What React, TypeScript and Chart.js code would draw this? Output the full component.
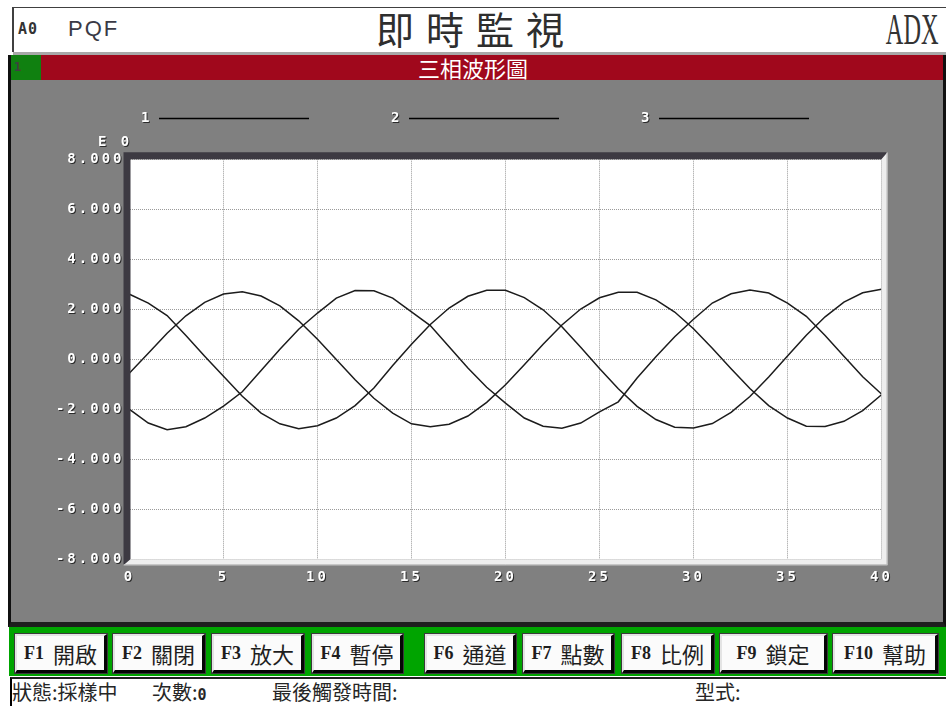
import React, { useEffect, useRef } from 'react';
import { Chart, registerables } from 'chart.js';

Chart.register(...registerables);

// ---- chart data ----
const xValues = [0, 1, 2, 3, 4, 5, 6, 7, 8, 9, 10, 11, 12, 13, 14, 15, 16, 17, 18, 19, 20, 21, 22, 23, 24, 25, 26, 27, 28, 29, 30, 31, 32, 33, 34, 35, 36, 37, 38, 39, 40];
const phase1 = [2.60, 2.25, 1.75, 0.95, 0.12, -0.68, -1.48, -2.15, -2.58, -2.78, -2.66, -2.35, -1.85, -1.15, -0.25, 0.60, 1.39, 2.05, 2.52, 2.76, 2.76, 2.47, 1.98, 1.30, 0.48, -0.37, -1.18, -1.88, -2.41, -2.72, -2.75, -2.57, -2.12, -1.49, -0.71, 0.13, 0.96, 1.70, 2.29, 2.66, 2.80];
const phase2 = [-0.55, 0.24, 1.04, 1.74, 2.28, 2.61, 2.70, 2.53, 2.14, 1.54, 0.80, -0.01, -0.82, -1.56, -2.15, -2.58, -2.70, -2.60, -2.27, -1.72, -1.02, -0.22, 0.60, 1.37, 2.01, 2.46, 2.68, 2.68, 2.38, 1.89, 1.22, 0.44, -0.38, -1.17, -1.85, -2.35, -2.68, -2.69, -2.48, -2.05, -1.42];
const phase3 = [-2.00, -2.55, -2.82, -2.70, -2.35, -1.87, -1.30, -0.45, 0.40, 1.20, 1.85, 2.45, 2.75, 2.74, 2.45, 1.90, 1.35, 0.50, -0.35, -1.12, -1.75, -2.35, -2.68, -2.76, -2.55, -2.10, -1.70, -0.75, 0.10, 0.90, 1.60, 2.25, 2.62, 2.77, 2.65, 2.25, 1.72, 0.95, 0.12, -0.70, -1.39];
const seriesNames = ['1', '2', '3'];
const seriesValues = [phase1, phase2, phase3];
const yMin = -8;
const yMax = 8;
const yStep = 2;
const xMin = 0;
const xMax = 40;
const xStep = 5;
const yExponentLabel = 'E 0';

// ---- UI text ----
const fKeys = ['F1', 'F2', 'F3', 'F4', 'F6', 'F7', 'F8', 'F9', 'F10'];
const fLabels = ['開啟', '關閉', '放大', '暫停', '通道', '點數', '比例', '鎖定', '幫助'];
const fLefts = [15, 113, 212, 312, 425, 523, 622, 720, 833];
const fWidths = [92, 92, 92, 91, 91, 91, 92, 107, 105];

const MONO = '"DejaVu Sans Mono", "Liberation Mono", monospace';
const CJK = '"Noto Sans CJK TC", "Noto Sans CJK SC", sans-serif';

const framePlugin = {
  id: 'frame',
  beforeDraw(chart: any) {
    const { ctx, chartArea: a } = chart;
    ctx.save();
    ctx.fillStyle = '#ffffff';
    ctx.fillRect(a.left, a.top, a.right - a.left, a.bottom - a.top);
    ctx.restore();
  },
  afterDatasetsDraw(chart: any) {
    const { ctx, chartArea: a } = chart;
    ctx.save();
    const d = 7;
    const l = 6;
    const L = a.left + 1;
    const T = a.top;
    const R = a.right;
    const B = a.bottom;
    // dark top/left bevel
    ctx.fillStyle = '#3d3a42';
    ctx.beginPath();
    ctx.moveTo(L - d, T - d);
    ctx.lineTo(R + l, T - d);
    ctx.lineTo(R, T);
    ctx.lineTo(L, T);
    ctx.lineTo(L, B);
    ctx.lineTo(L - d, B + l);
    ctx.closePath();
    ctx.fill();
    // light bottom/right bevel
    ctx.fillStyle = '#eeeeee';
    ctx.beginPath();
    ctx.moveTo(R + l, T - d);
    ctx.lineTo(R + l, B + l);
    ctx.lineTo(L - d, B + l);
    ctx.lineTo(L, B);
    ctx.lineTo(R, B);
    ctx.lineTo(R, T);
    ctx.closePath();
    ctx.fill();
    ctx.strokeStyle = '#b8b8b8';
    ctx.lineWidth = 1;
    ctx.beginPath();
    ctx.moveTo(R + l - 0.5, T - d);
    ctx.lineTo(R + l - 0.5, B + l - 0.5);
    ctx.lineTo(L - d, B + l - 0.5);
    ctx.stroke();

    // legend lines
    chart.data.datasets.forEach((ds: any, i: number) => {
      const x0 = 159 + i * 250;
      ctx.strokeStyle = '#000000';
      ctx.lineWidth = 1.5;
      ctx.beginPath();
      ctx.moveTo(x0, 118.5);
      ctx.lineTo(x0 + 150, 118.5);
      ctx.stroke();
    });

    // texts with shadow
    ctx.font = `bold 14px ${MONO}`;
    ctx.fillStyle = '#ffffff';
    ctx.shadowColor = '#2a2a2a';
    ctx.shadowOffsetX = 1;
    ctx.shadowOffsetY = 1;
    ctx.shadowBlur = 0;
    (ctx as any).letterSpacing = '3px';
    ctx.textBaseline = 'middle';
    ctx.textAlign = 'left';
    chart.data.datasets.forEach((ds: any, i: number) => {
      ctx.fillText(ds.label, 141 + i * 250, 118);
    });
    ctx.fillText(yExponentLabel, 98, 142);
    ctx.restore();

    // shadow + spacing for tick labels (drawn after this hook)
    ctx.shadowColor = '#2a2a2a';
    ctx.shadowOffsetX = 1;
    ctx.shadowOffsetY = 1;
    ctx.shadowBlur = 0;
    (ctx as any).letterSpacing = '3px';
  },
  afterDraw(chart: any) {
    const { ctx } = chart;
    ctx.shadowColor = 'rgba(0,0,0,0)';
    ctx.shadowOffsetX = 0;
    ctx.shadowOffsetY = 0;
    (ctx as any).letterSpacing = '0px';
  },
};

function ChartCanvas() {
  const ref = useRef<HTMLCanvasElement | null>(null);
  useEffect(() => {
    if (!ref.current) return;
    const tickFont = { family: MONO, size: 14, weight: 'bold' as const };
    const chart = new Chart(ref.current, {
      type: 'line',
      data: {
        datasets: seriesValues.map((vals, i) => ({
          label: seriesNames[i],
          data: xValues.map((x, j) => ({ x, y: vals[j] })),
          borderColor: '#1c1c1c',
          borderWidth: 1.5,
          pointRadius: 0,
          fill: false,
          tension: 0,
        })),
      },
      options: {
        responsive: false,
        animation: false,
        events: [],
        layout: { padding: { left: 0, top: 159.3, right: 946 - 881.5, bottom: 706 - 559.3 - 40 } },
        plugins: { legend: { display: false }, tooltip: { enabled: false }, title: { display: false } },
        scales: {
          x: {
            type: 'linear',
            min: xMin,
            max: xMax,
            afterFit: (s: any) => { s.height = 40; },
            ticks: { stepSize: xStep, color: '#ffffff', font: tickFont, padding: 10, maxRotation: 0, z: 1 },
            grid: { color: '#9a9a9a', lineWidth: 1, drawTicks: false },
            border: { display: false, dash: [1, 1] },
          },
          y: {
            type: 'linear',
            min: yMin,
            max: yMax,
            afterFit: (s: any) => { s.width = 129.5; },
            ticks: {
              stepSize: yStep,
              color: '#ffffff',
              font: tickFont,
              padding: 5,
              z: 1,
              callback: (v: any) => Number(v).toFixed(3),
            },
            grid: { color: '#9a9a9a', lineWidth: 1, drawTicks: false },
            border: { display: false, dash: [1, 1] },
          },
        },
      },
      plugins: [framePlugin],
    } as any);
    return () => chart.destroy();
  }, []);
  return (
    <canvas
      ref={ref}
      width={946}
      height={706}
      style={{ position: 'absolute', left: 0, top: 0, width: 946, height: 706, zIndex: 5, pointerEvents: 'none' }}
    />
  );
}

const abs = (s: React.CSSProperties): React.CSSProperties => ({ position: 'absolute', ...s });

export default function App() {
  return (
    <div style={{ position: 'fixed', left: 0, top: 0, width: 946, height: 706, overflow: 'hidden', background: '#ffffff' }}>
      {/* header */}
      <div style={abs({ left: 12, top: 7, width: 934, height: 45, borderTop: '1px solid #404040', borderLeft: '2px solid #404040', boxSizing: 'border-box' })} />
      <div style={abs({ left: 13, top: 52, width: 933, height: 3, background: '#a8a8a8' })} />
      <div style={abs({ left: 18, top: 21, font: `bold 15px ${MONO}`, letterSpacing: 1, color: '#333', lineHeight: '16px' })}>A0</div>
      <div style={abs({ left: 68, top: 16, fontFamily: '"Liberation Sans", Arial, sans-serif', fontSize: 22, letterSpacing: 2, color: '#3a3a46', lineHeight: '26px' })}>PQF</div>
      <div style={abs({ left: 376, top: 9, fontFamily: CJK, fontSize: 38, letterSpacing: 12, color: '#2e2e2e', lineHeight: '38px', whiteSpace: 'nowrap' })}>即時監視</div>
      <div style={abs({ right: 8, top: 7, fontFamily: '"Liberation Serif", serif', fontSize: 45, lineHeight: '45px', color: '#333', transform: 'scaleX(0.54)', transformOrigin: 'right center' })}>ADX</div>

      {/* gray panel */}
      <div style={abs({ left: 8, top: 55, width: 938, height: 572, background: '#808080', borderLeft: '3px solid #101010', borderRight: '3px solid #101010', borderBottom: '5px solid #1e1e1e', boxSizing: 'border-box' })} />
      <div style={abs({ left: 11, top: 55, width: 932, height: 25, background: '#a0081c' })} />
      <div style={abs({ left: 11, top: 55, width: 30, height: 25, background: '#108010' })} />
      <div style={abs({ left: 14, top: 61, font: `bold 12px ${MONO}`, color: '#404040', lineHeight: '12px' })}>1</div>
      <div style={abs({ left: 0, top: 55, width: 946, textAlign: 'center', fontFamily: CJK, fontSize: 22, color: '#ffffff', lineHeight: '25px' })}>三相波形圖</div>

      {/* function key bar */}
      <div style={abs({ left: 9, top: 627, width: 937, height: 49, background: '#00a400' })} />
      {fKeys.map((k, i) => (
        <div
          key={k}
          style={abs({
            left: fLefts[i],
            top: 634,
            width: fWidths[i],
            height: 39,
            boxSizing: 'border-box',
            background: '#fbfbfb',
            borderStyle: 'solid',
            borderWidth: '2px 3px 3px 2px',
            borderColor: '#e4e4e4 #050505 #050505 #e4e4e4',
            boxShadow: '0 0 0 1px #3a3a3a',
            display: 'flex',
            alignItems: 'center',
            justifyContent: 'center',
            color: '#1e1e1e',
            whiteSpace: 'nowrap',
          })}
        >
          <span style={{ fontFamily: '"Liberation Serif", serif', fontWeight: 'bold', fontSize: 18, marginRight: 9 }}>{k}</span>
          <span style={{ fontFamily: CJK, fontSize: 22, lineHeight: '24px' }}>{fLabels[i]}</span>
        </div>
      ))}

      {/* status bar */}
      <div style={abs({ left: 10, top: 677, width: 936, height: 29, borderTop: '2px solid #202020', borderLeft: '2px solid #000', boxSizing: 'border-box', background: '#fff' })} />
      <div style={abs({ left: 12, top: 680, fontFamily: CJK, fontSize: 20, lineHeight: '24px', color: '#262626', whiteSpace: 'nowrap' })}>狀態:採樣中</div>
      <div style={abs({ left: 152, top: 680, fontFamily: CJK, fontSize: 20, lineHeight: '24px', color: '#262626', whiteSpace: 'nowrap' })}>
        次數:<span style={{ font: `bold 15px ${MONO}` }}>0</span>
      </div>
      <div style={abs({ left: 272, top: 680, fontFamily: CJK, fontSize: 20, lineHeight: '24px', color: '#262626', whiteSpace: 'nowrap' })}>最後觸發時間:</div>
      <div style={abs({ left: 695, top: 680, fontFamily: CJK, fontSize: 20, lineHeight: '24px', color: '#262626', whiteSpace: 'nowrap' })}>型式:</div>

      <ChartCanvas />
    </div>
  );
}
